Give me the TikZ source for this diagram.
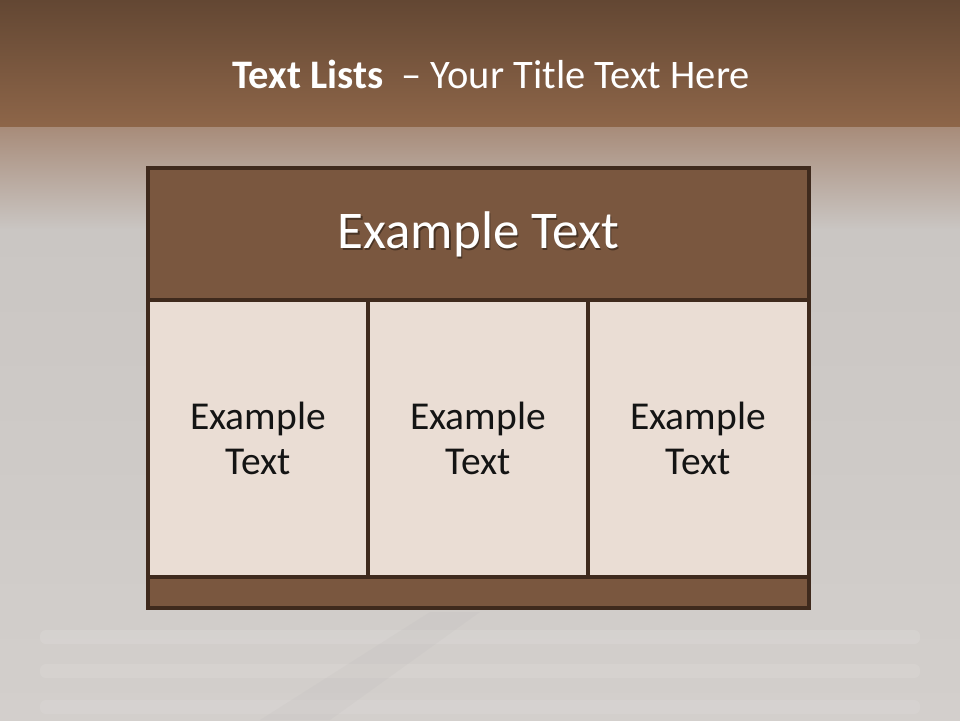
\documentclass[tikz,border=0pt]{standalone}
\usepackage{fontspec}
\setmainfont{Carlito}
\definecolor{bgtop}{HTML}{634733}
\definecolor{bgmid}{HTML}{8E6649}
\definecolor{bgfade}{HTML}{A88C7A}
\definecolor{bggrey}{HTML}{CAC6C3}
\definecolor{bglow}{HTML}{D3CFCC}
\definecolor{hdrfill}{HTML}{7A573F}
\definecolor{cellfill}{HTML}{EADDD4}
\definecolor{edge}{HTML}{3F2A1D}
\definecolor{celltext}{HTML}{141414}
\tikzset{
  panel/.style={draw=edge, line width=3.2pt},
  hdrtext/.style={text=white, font=\fontsize{53}{56}\selectfont, inner sep=0pt},
  celltxt/.style={text=celltext, font=\fontsize{39.5}{45}\selectfont, align=center, inner sep=0pt},
  titletxt/.style={text=white, font=\fontsize{40.5}{44}\selectfont, inner sep=0pt}
}
\begin{document}
\begin{tikzpicture}[x=1pt,y=-1pt]
\useasboundingbox (0,0) rectangle (960,720);
% background
\fill[top color=bgtop, bottom color=bgmid] (0,0) rectangle (960,128);
\fill[top color=bgfade, bottom color=bggrey] (0,127.5) rectangle (960,230);
\fill[top color=bggrey, bottom color=bglow] (0,229.5) rectangle (960,720);
% faint floor streaks
\foreach \yy/\op in {630/0.10,664/0.09,700/0.08}{
  \fill[white, opacity=\op, rounded corners=6pt] (40,\yy) rectangle (920,\yy+14);
}
\fill[black!40, opacity=0.06] (430,612) -- (480,612) -- (330,720) -- (260,720) -- cycle;
% title
\node[titletxt, anchor=base] (title) at (491,88) {\textbf{Text Lists}~ – Your Title Text Here};
% table
\fill[hdrfill] (148,168) rectangle (809,300);
\fill[cellfill] (148,300) rectangle (809,577);
\fill[hdrfill] (148,577) rectangle (809,608);
\draw[panel] (148,168) rectangle (809,608);
\draw[panel] (148,300) -- (809,300);
\draw[panel] (148,577) -- (809,577);
\draw[panel] (368,300) -- (368,577);
\draw[panel] (588,300) -- (588,577);
% header text with shadow
\node[hdrtext, text=black, opacity=0.4, anchor=base] (hdrshadow) at (479.8,250) {Example Text};
\node[hdrtext, anchor=base] (hdr) at (478.5,248.5) {Example Text};
% cell texts
\node[celltxt] (c1) at (258,438) {Example\\Text};
\node[celltxt] (c2) at (478,438) {Example\\Text};
\node[celltxt] (c3) at (698,438) {Example\\Text};
\end{tikzpicture}
\end{document}
